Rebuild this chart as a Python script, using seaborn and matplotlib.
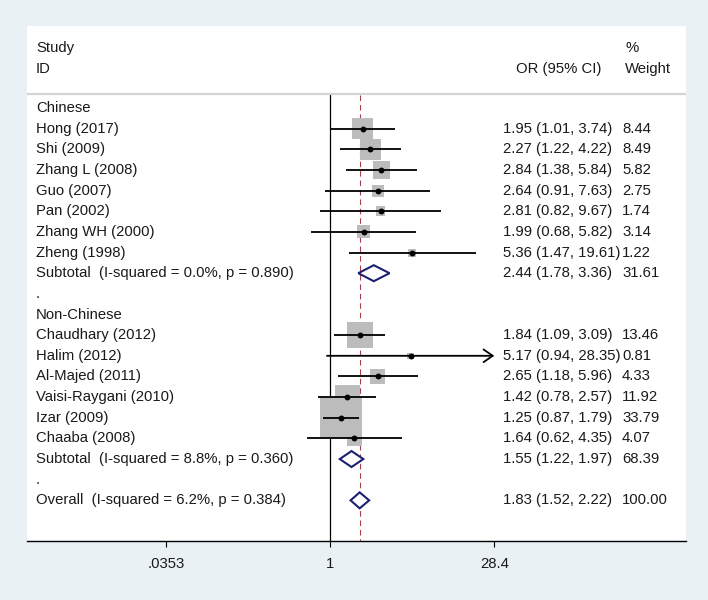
import numpy as np
import pandas as pd
import matplotlib
matplotlib.use("Agg")
import matplotlib.pyplot as plt
import seaborn as sns
from matplotlib.transforms import blended_transform_factory
from matplotlib.patches import Polygon

# ---------------- data ----------------
chinese_studies = ["Hong (2017)", "Shi (2009)", "Zhang L (2008)", "Guo (2007)",
                   "Pan (2002)", "Zhang WH (2000)", "Zheng (1998)"]
chinese_or = [1.95, 2.27, 2.84, 2.64, 2.81, 1.99, 5.36]
chinese_lo = [1.01, 1.22, 1.38, 0.91, 0.82, 0.68, 1.47]
chinese_hi = [3.74, 4.22, 5.84, 7.63, 9.67, 5.82, 19.61]
chinese_w = ["8.44", "8.49", "5.82", "2.75", "1.74", "3.14", "1.22"]
chinese_sub = [2.44, 1.78, 3.36]
chinese_sub_w = "31.61"
chinese_sub_label = "Subtotal  (I-squared = 0.0%, p = 0.890)"

non_studies = ["Chaudhary (2012)", "Halim (2012)", "Al-Majed (2011)",
               "Vaisi-Raygani (2010)", "Izar (2009)", "Chaaba (2008)"]
non_or = [1.84, 5.17, 2.65, 1.42, 1.25, 1.64]
non_lo = [1.09, 0.94, 1.18, 0.78, 0.87, 0.62]
non_hi = [3.09, 28.35, 5.96, 2.57, 1.79, 4.35]
non_w = ["13.46", "0.81", "4.33", "11.92", "33.79", "4.07"]
non_sub = [1.55, 1.22, 1.97]
non_sub_w = "68.39"
non_sub_label = "Subtotal  (I-squared = 8.8%, p = 0.360)"

overall = [1.83, 1.52, 2.22]
overall_w = "100.00"
overall_label = "Overall  (I-squared = 6.2%, p = 0.384)"

group_names = ["Chinese", "Non-Chinese"]
x_ticks = [0.0353, 1, 28.4]
x_tick_labels = [".0353", "1", "28.4"]

# ---------------- layout helpers ----------------
W, H = 708, 600
BG = "#e9f1f4"
TXT = "#1a1a1a"
FS = 10.7
PX_PER_LN = 49.1          # pixels per natural-log unit
X1_PX = 330               # pixel position of OR = 1
AX_L, AX_R, AX_T, AX_B = 27, 686, 26, 541
ROW0_PX, ROW_STEP = 108, 20.65

sns.set_theme(style="white")
plt.rcParams["font.family"] = ["Liberation Sans", "DejaVu Sans"]

fig = plt.figure(figsize=(W / 100, H / 100), dpi=100, facecolor=BG)
ax = fig.add_axes([AX_L / W, (H - AX_B) / H, (AX_R - AX_L) / W, (AX_B - AX_T) / H])
ax.set_facecolor("white")
ax.set_xscale("log")
ax.set_xlim(np.exp((AX_L - X1_PX) / PX_PER_LN), np.exp((AX_R - X1_PX) / PX_PER_LN))
ax.set_ylim((AX_B - ROW0_PX) / ROW_STEP, (AX_T - ROW0_PX) / ROW_STEP)

def prow(px):
    return (px - ROW0_PX) / ROW_STEP

def xfrac(px):
    return (px - AX_L) / (AX_R - AX_L)

tr = blended_transform_factory(ax.transAxes, ax.transData)

# ---------------- assemble rows ----------------
rows = []  # (kind, label, or, lo, hi, weight_text)
rows.append(("head", group_names[0], None, None, None, None))
for s, o, l, h, w in zip(chinese_studies, chinese_or, chinese_lo, chinese_hi, chinese_w):
    rows.append(("study", s, o, l, h, w))
rows.append(("sub", chinese_sub_label, *chinese_sub, chinese_sub_w))
rows.append(("dot", ".", None, None, None, None))
rows.append(("head", group_names[1], None, None, None, None))
for s, o, l, h, w in zip(non_studies, non_or, non_lo, non_hi, non_w):
    rows.append(("study", s, o, l, h, w))
rows.append(("sub", non_sub_label, *non_sub, non_sub_w))
rows.append(("dot", ".", None, None, None, None))
rows.append(("sub", overall_label, *overall, overall_w))

study_df = pd.DataFrame(
    [(i, r[1], r[2], r[3], r[4], float(r[5])) for i, r in enumerate(rows) if r[0] == "study"],
    columns=["row", "label", "or", "lo", "hi", "w"])

# reference lines
ax.plot([1, 1], [prow(95), ax.get_ylim()[0]], color="black", lw=0.9, zorder=2)
ax.plot([overall[0], overall[0]], [prow(95), ax.get_ylim()[0]], color="#a3404c",
        lw=0.8, ls=(0, (5, 3.5)), zorder=2)
ax.axhline(prow(94), color="#d4d4d4", lw=1.6, zorder=1)

# weight boxes (area proportional to weight)
side_pt = 7.23 * np.sqrt(study_df["w"].values) * 0.72
sns.scatterplot(data=study_df, x="or", y="row", s=side_pt ** 2, marker="s",
                color="#bcbcbc", linewidth=0, ax=ax, zorder=3, legend=False)

# CI lines
x_max = x_ticks[-1]
for _, r in study_df.iterrows():
    if r["hi"] >= x_max * 0.99:
        ax.annotate("", xy=(x_max, r["row"]), xytext=(r["lo"], r["row"]),
                    arrowprops=dict(arrowstyle="->,head_length=0.55,head_width=0.38",
                                    color="black", lw=1.3, shrinkA=0, shrinkB=0),
                    zorder=4)
    else:
        ax.plot([r["lo"], r["hi"]], [r["row"], r["row"]], color="black", lw=1.3,
                zorder=4, solid_capstyle="butt")

sns.scatterplot(data=study_df, x="or", y="row", s=18, marker="o", color="black",
                linewidth=0, ax=ax, zorder=5, legend=False)

# diamonds
dh = 8 / ROW_STEP
for i, r in enumerate(rows):
    if r[0] == "sub":
        o, l, h = r[2], r[3], r[4]
        ax.add_patch(Polygon([(l, i), (o, i - dh), (h, i), (o, i + dh)], closed=True,
                             facecolor="white", edgecolor="#1c2070", lw=1.5, zorder=5))

# text columns
for i, r in enumerate(rows):
    ax.text(xfrac(36), i, r[1], transform=tr, ha="left", va="center",
            fontsize=FS, color=TXT)
    if r[2] is not None:
        ax.text(xfrac(503), i, f"{r[2]:.2f} ({r[3]:.2f}, {r[4]:.2f})", transform=tr,
                ha="left", va="center", fontsize=FS, color=TXT)
        ax.text(xfrac(622), i, r[5], transform=tr, ha="left", va="center",
                fontsize=FS, color=TXT)

ax.text(xfrac(36), prow(48), "Study", transform=tr, ha="left", va="center", fontsize=FS, color=TXT)
ax.text(xfrac(36), prow(69), "ID", transform=tr, ha="left", va="center", fontsize=FS, color=TXT)
ax.text(xfrac(601), prow(69), "OR (95% CI)", transform=tr, ha="right", va="center", fontsize=FS, color=TXT)
ax.text(xfrac(625), prow(48), "%", transform=tr, ha="left", va="center", fontsize=FS, color=TXT)
ax.text(xfrac(625), prow(69), "Weight", transform=tr, ha="left", va="center", fontsize=FS, color=TXT)

# axis styling
for sp in ["top", "left", "right"]:
    ax.spines[sp].set_visible(False)
ax.spines["bottom"].set_color("black")
ax.spines["bottom"].set_linewidth(1.0)
ax.set_yticks([])
ax.set_xticks(x_ticks)
ax.set_xticklabels(x_tick_labels)
ax.xaxis.set_minor_locator(matplotlib.ticker.NullLocator())
ax.tick_params(axis="x", which="major", direction="out", length=4.3, width=0.8,
               color="black", labelsize=FS, labelcolor=TXT, pad=7, bottom=True)
ax.set_xlabel("")
ax.set_ylabel("")

fig.savefig("out.png", dpi=100, facecolor=BG)
